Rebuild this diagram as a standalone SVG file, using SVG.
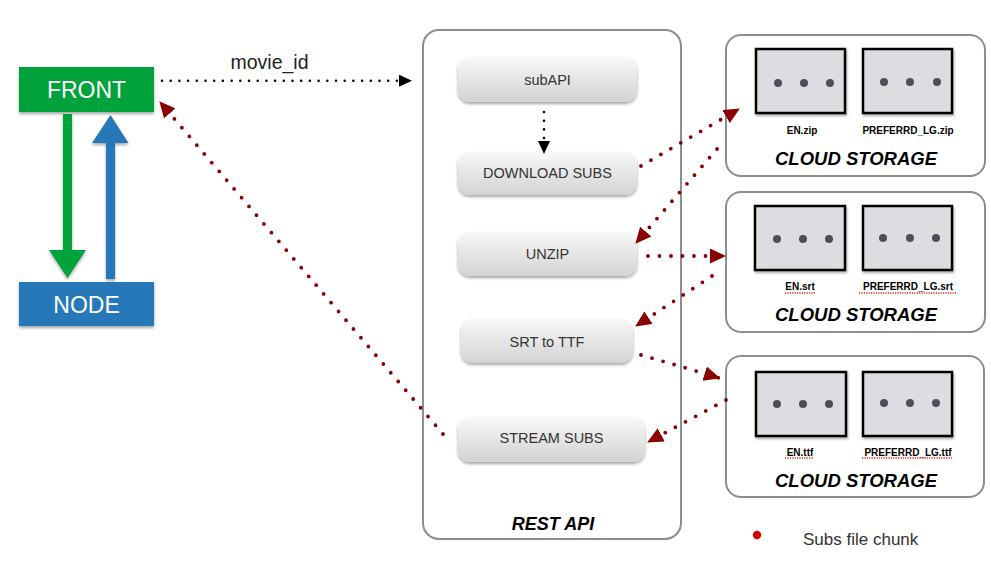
<svg xmlns="http://www.w3.org/2000/svg" width="991" height="587" viewBox="0 0 991 587">
<defs>
<linearGradient id="btnGrad" x1="0" y1="0" x2="0" y2="1">
<stop offset="0" stop-color="#f8f8f8"/>
<stop offset="1" stop-color="#d3d3d3"/>
</linearGradient>
<filter id="shadow" x="-10%" y="-20%" width="120%" height="150%">
<feDropShadow dx="0" dy="2" stdDeviation="1.5" flood-color="#000" flood-opacity="0.35"/>
</filter>
<filter id="fshadow" x="-10%" y="-10%" width="125%" height="125%">
<feDropShadow dx="1" dy="2" stdDeviation="1.2" flood-color="#000" flood-opacity="0.3"/>
</filter>
<marker id="redArrow" viewBox="0 0 16 15" refX="15" refY="7.5" markerUnits="userSpaceOnUse" markerWidth="16" markerHeight="15" orient="auto">
<path d="M0,0 L16,7.5 L0,15 z" fill="#8b0000"/>
</marker>
<marker id="blackArrow" viewBox="0 0 13 12" refX="13" refY="6" markerUnits="userSpaceOnUse" markerWidth="13" markerHeight="12" orient="auto">
<path d="M0,0 L13,6 L0,12 z" fill="#000"/>
</marker>
</defs>
<style>
.lbl{font-family:"Liberation Sans",Arial,sans-serif}
.white{fill:#fff;font-size:23px;text-anchor:middle}
.btn{fill:url(#btnGrad);filter:url(#shadow)}
.btntxt{fill:#333;font-size:14.5px;text-anchor:middle}
.container{fill:#fff;stroke:#8a8d91;stroke-width:2}
.title{font-weight:bold;font-style:italic;font-size:18.5px;text-anchor:middle;fill:#000}
.file{fill:#dcdde0;stroke:#000;stroke-width:2.5;filter:url(#fshadow)}
.chunk{fill:#4b5058}
.fname{font-weight:bold;font-size:10px;text-anchor:middle;fill:#000}
.red{fill:none;stroke:#8b0000;stroke-width:3.8;stroke-linecap:round;stroke-dasharray:0 11.5;marker-end:url(#redArrow)}
.blk{fill:none;stroke:#000;stroke-width:2.6;stroke-linecap:round;stroke-dasharray:0 8.7;marker-end:url(#blackArrow)}
.squig{fill:none;stroke:#e02020;stroke-width:1.3;stroke-dasharray:1.2 1.2}
</style>
<rect width="991" height="587" fill="#fff"/>

<g id="front">
<rect x="19" y="67" width="135" height="45" fill="#00a23a" filter="url(#shadow)"/>
<text class="lbl white" x="86.5" y="98">FRONT</text>
</g>
<g id="node">
<rect x="19" y="282" width="135" height="44" fill="#2878b8" filter="url(#shadow)"/>
<text class="lbl white" x="86.5" y="313">NODE</text>
</g>
<g id="front-node-arrows">
<path d="M63,114 H72 V250 H86 L67.5,278 L49,250 H63 Z" fill="#00a23a" filter="url(#shadow)"/>
<path d="M106,279 H115 V143 H128.5 L110.5,115 L92,143 H106 Z" fill="#2878b8" filter="url(#shadow)"/>
</g>

<g id="rest-api">
<rect class="container" x="423" y="30" width="258" height="509" rx="16"/>
<text class="lbl title" x="553" y="530" style="font-size:18px">REST API</text>
</g>
<g id="subapi">
<rect class="btn" x="458" y="57" width="179" height="45" rx="12"/>
<text class="lbl btntxt" x="547.5" y="85">subAPI</text>
</g>
<g id="download-subs">
<rect class="btn" x="458" y="152" width="179" height="43" rx="12"/>
<text class="lbl btntxt" x="547.5" y="178">DOWNLOAD SUBS</text>
</g>
<g id="unzip">
<rect class="btn" x="458" y="232" width="179" height="44" rx="12"/>
<text class="lbl btntxt" x="547.5" y="259">UNZIP</text>
</g>
<g id="srt-to-ttf">
<rect class="btn" x="461" y="319" width="172" height="44" rx="12"/>
<text class="lbl btntxt" x="547" y="347">SRT to TTF</text>
</g>
<g id="stream-subs">
<rect class="btn" x="458" y="417" width="187" height="45" rx="12"/>
<text class="lbl btntxt" x="551.5" y="443">STREAM SUBS</text>
</g>

<g id="storage-zip">
<rect class="container" x="726" y="35" width="259" height="141" rx="15"/>
<rect class="file" x="756" y="49" width="89" height="64"/>
<rect class="file" x="863" y="49" width="89" height="64"/>
<circle class="chunk" cx="778" cy="83" r="4"/><circle class="chunk" cx="804" cy="83" r="4"/><circle class="chunk" cx="830" cy="83" r="4"/>
<circle class="chunk" cx="884" cy="82" r="4"/><circle class="chunk" cx="910" cy="82" r="4"/><circle class="chunk" cx="937" cy="82" r="4"/>
<text class="lbl fname" x="802" y="134">EN.zip</text>
<text class="lbl fname" x="908" y="134">PREFERRD_LG.zip</text>
<text class="lbl title" x="856" y="165">CLOUD STORAGE</text>
</g>
<g id="storage-srt">
<rect class="container" x="726" y="192" width="259" height="140" rx="15"/>
<rect class="file" x="755" y="206" width="90" height="64"/>
<rect class="file" x="863" y="206" width="89" height="64"/>
<circle class="chunk" cx="777" cy="239" r="4"/><circle class="chunk" cx="803" cy="239" r="4"/><circle class="chunk" cx="829" cy="239" r="4"/>
<circle class="chunk" cx="883" cy="238" r="4"/><circle class="chunk" cx="910" cy="238" r="4"/><circle class="chunk" cx="936" cy="238" r="4"/>
<text class="lbl fname" x="800" y="290">EN.srt</text>
<text class="lbl fname" x="908" y="290">PREFERRD_LG.srt</text>
<path class="squig" d="M785,293 H815 M859,293 H956"/>
<text class="lbl title" x="856" y="321">CLOUD STORAGE</text>
</g>
<g id="storage-ttf">
<rect class="container" x="726" y="356" width="258" height="141" rx="15"/>
<rect class="file" x="756" y="372" width="90" height="64"/>
<rect class="file" x="863" y="372" width="89" height="64"/>
<circle class="chunk" cx="777" cy="404" r="4"/><circle class="chunk" cx="803" cy="404" r="4"/><circle class="chunk" cx="829" cy="404" r="4"/>
<circle class="chunk" cx="884" cy="403" r="4"/><circle class="chunk" cx="910" cy="403" r="4"/><circle class="chunk" cx="936" cy="403" r="4"/>
<text class="lbl fname" x="800" y="456">EN.ttf</text>
<text class="lbl fname" x="908" y="456">PREFERRD_LG.ttf</text>
<path class="squig" d="M785,458 H813 M862,458 H953"/>
<text class="lbl title" x="856" y="487">CLOUD STORAGE</text>
</g>

<g id="legend">
<circle cx="757" cy="535" r="4.2" fill="#d40000"/>
<text class="lbl" x="803" y="545" font-size="17" fill="#333">Subs file chunk</text>
</g>

<g id="connectors">
<path class="blk" d="M162,80.7 L412,80.7"/>
<text class="lbl" x="269.5" y="69" font-size="19.5" fill="#222" text-anchor="middle">movie_id</text>
<path class="blk" d="M544,112 L544,154"/>
<path class="red" d="M641,166 L739,109"/>
<path class="red" d="M717,149 L636,243"/>
<path class="red" d="M648,256 L725,256"/>
<path class="red" d="M712,276 L636,326"/>
<path class="red" d="M641,355 Q680,366 719,378"/>
<path class="red" d="M726,400 L648,442"/>
<path class="red" d="M443,434 L160,102"/>
</g>
</svg>
